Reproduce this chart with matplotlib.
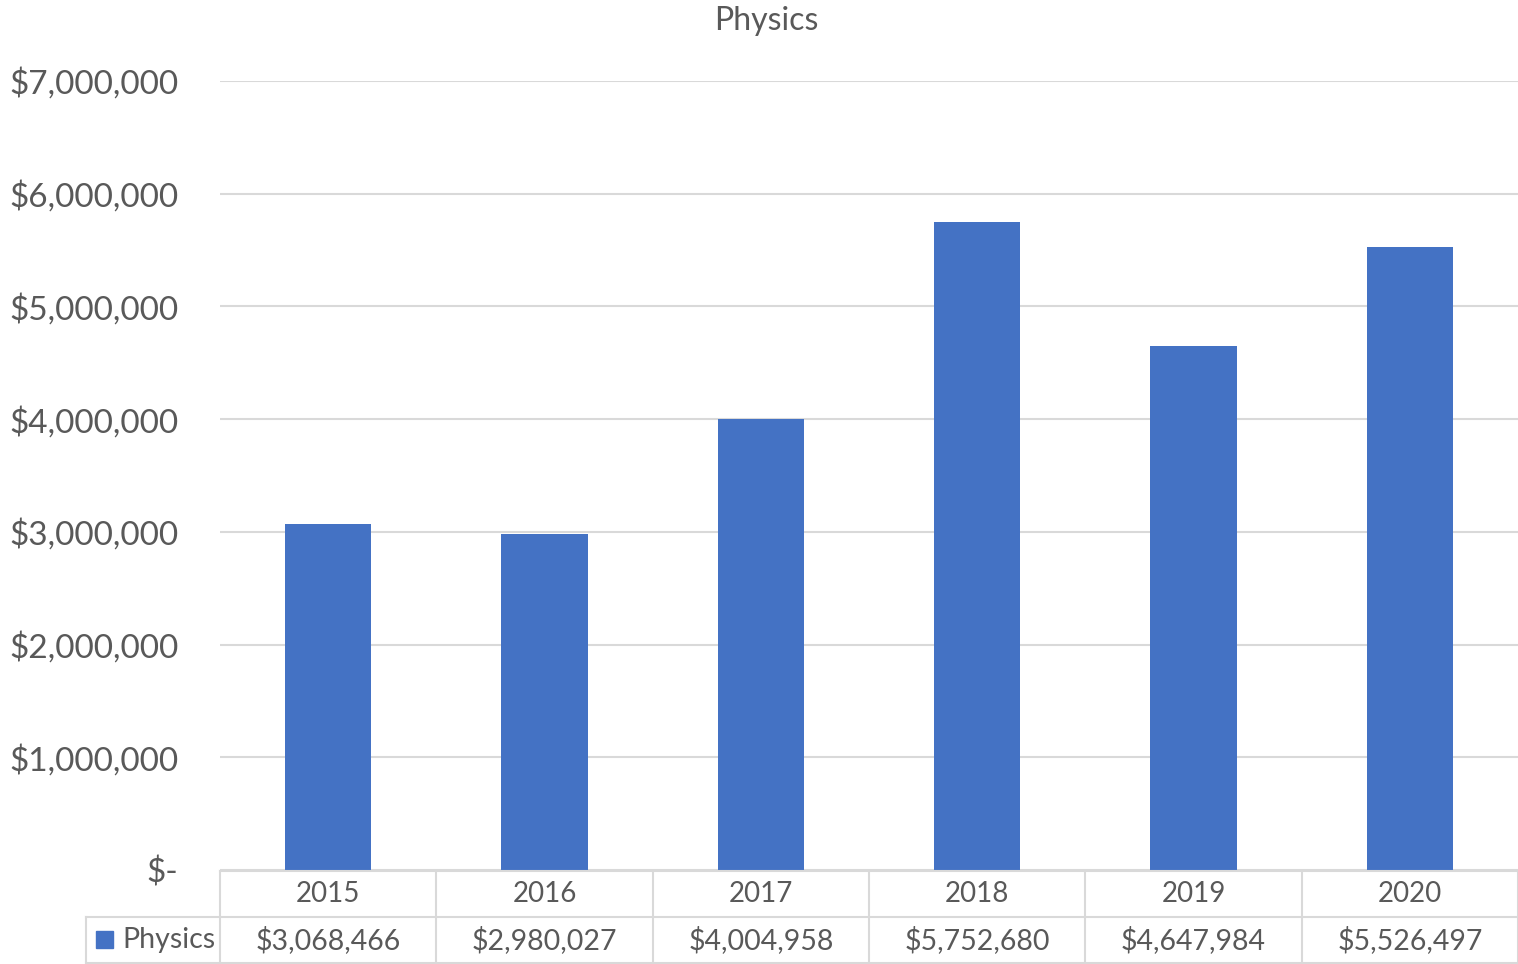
import matplotlib.pyplot as plt
import matplotlib.transforms as mtransforms

years = ['2015', '2016', '2017', '2018', '2019', '2020']
funding = [3068466, 2980027, 4004958, 5752680, 4647984, 5526497]
series_name = 'Physics'

W, H = 1518, 964
plt.rcParams['font.family'] = ['Lato', 'DejaVu Sans']
text_col = '#595959'
grid_col = '#D9D9D9'
bar_col = '#4472C4'

fig = plt.figure(figsize=(W / 100, H / 100), dpi=100)
left, right, top, bottom = 220, 1518, 81, 870
ax = fig.add_axes([left / W, 1 - bottom / H, (right - left) / W, (bottom - top) / H])

x = list(range(len(years)))
ax.bar(x, funding, width=0.4, color=bar_col, zorder=2)
ax.set_xlim(-0.5, len(years) - 0.5)
ax.set_ylim(0, 7000000)
ax.set_yticks(range(0, 7000001, 1000000))

def money(v, pos=None):
    return '$-' if v == 0 else f'${v:,.0f}'

ax.set_yticklabels([money(v) for v in range(0, 7000001, 1000000)])
ax.tick_params(axis='y', length=0, pad=30, labelsize=24, labelcolor=text_col)
ax.tick_params(axis='x', length=0, labelbottom=False)
ax.grid(axis='y', color=grid_col, linewidth=1.5, zorder=0)
for s in ax.spines.values():
    s.set_visible(False)

fig.text(766 / W, 1 - 21 / H, 'Physics', ha='center', va='center',
         fontsize=23, color=text_col)

# data table below the plot
tr = mtransforms.blended_transform_factory(ax.transData, fig.transFigure)
y_top = 1 - 871 / H
y_mid = 1 - 917 / H
y_bot = 1 - 963 / H
x_leg = (86 - left) / ((right - left) / len(years)) - 0.5
lw = 1.5
ax.plot([-0.5, len(years) - 0.5], [y_top, y_top], transform=tr, color=grid_col, lw=lw, clip_on=False)
ax.plot([x_leg, len(years) - 0.5], [y_mid, y_mid], transform=tr, color=grid_col, lw=lw, clip_on=False)
ax.plot([x_leg, len(years) - 0.5], [y_bot, y_bot], transform=tr, color=grid_col, lw=lw, clip_on=False)
for i in range(len(years) + 1):
    ax.plot([i - 0.5, i - 0.5], [y_top, y_bot], transform=tr, color=grid_col, lw=lw, clip_on=False)
ax.plot([x_leg, x_leg], [y_mid, y_bot], transform=tr, color=grid_col, lw=lw, clip_on=False)

for i, (yr, v) in enumerate(zip(years, funding)):
    ax.text(i, (y_top + y_mid) / 2, yr, transform=tr, ha='center', va='center',
            fontsize=20, color=text_col)
    ax.text(i, (y_mid + y_bot) / 2, money(v), transform=tr, ha='center', va='center',
            fontsize=20.5, color=text_col)

# legend key in the table
fig.patches.append(plt.Rectangle((96 / W, 1 - 948 / H), 17 / W, 17 / H,
                                 transform=fig.transFigure, color=bar_col))
fig.text(122 / W, (y_mid + y_bot) / 2, series_name, ha='left', va='center',
         fontsize=20.5, color=text_col)

fig.savefig('out.png', dpi=100)
